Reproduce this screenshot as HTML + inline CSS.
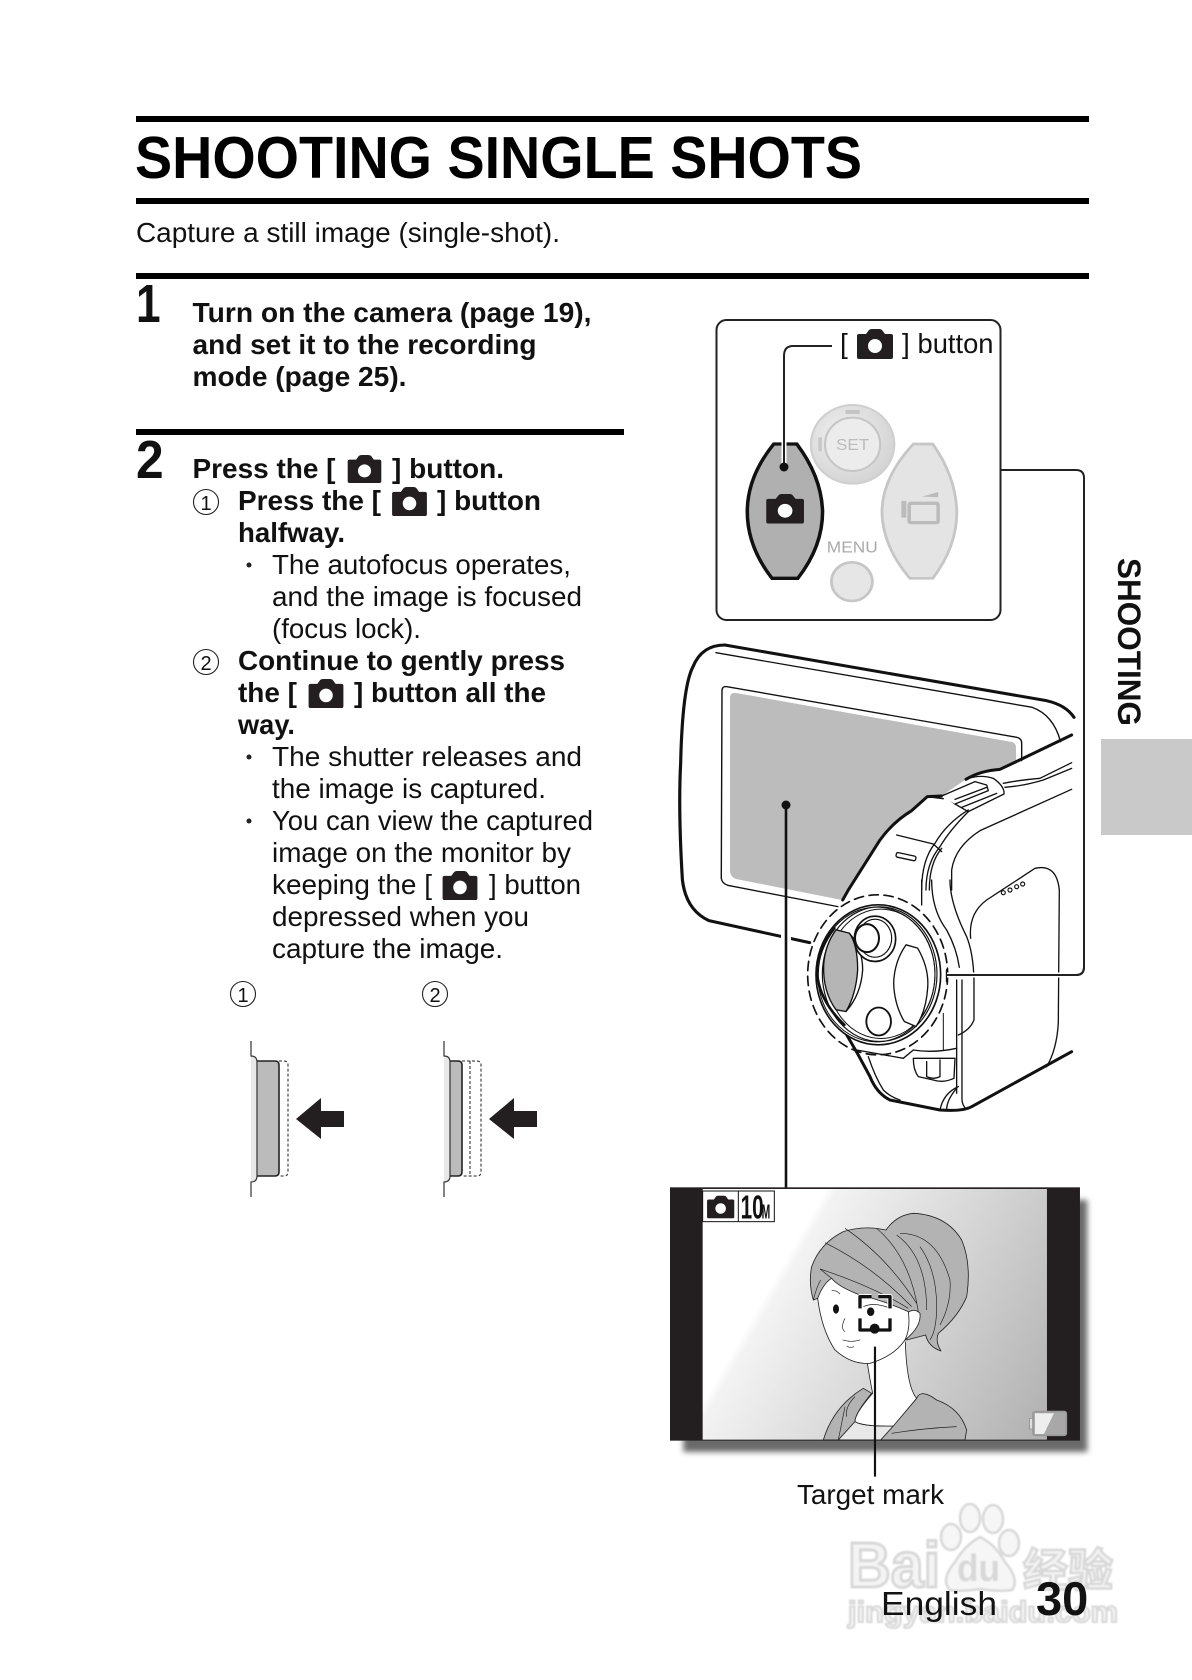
<!DOCTYPE html>
<html><head><meta charset="utf-8"><style>
html,body{margin:0;padding:0;background:#fff;width:1192px;height:1680px;overflow:hidden}
svg{display:block;position:absolute;left:0;top:0}
text{font-family:"Liberation Sans","Noto Sans CJK SC",sans-serif;fill:#111}
.b{font-weight:bold;font-size:28px}
.r{font-size:28px}
.n{font-size:20px;text-anchor:middle}
</style></head><body>
<svg width="1192" height="1680" viewBox="0 0 1192 1680" xmlns="http://www.w3.org/2000/svg">
<defs>
<symbol id="cam" viewBox="0 0 36 30"><path d="M2,5H9L12,1Q13,0 15,0H22Q24,0 25,1L28,5H34Q36,5 36,7V28Q36,30 34,30H2Q0,30 0,28V7Q0,5 2,5Z" fill="#231f20"/><circle cx="18" cy="17" r="7" fill="#fff"/></symbol>
<linearGradient id="bg" gradientUnits="userSpaceOnUse" x1="330" y1="400" x2="1151" y2="875"><stop offset="0" stop-color="#fff"/><stop offset="0.03" stop-color="#f3f3f3"/><stop offset="1" stop-color="#b0b0b0"/></linearGradient>
<radialGradient id="dial" cx=".4" cy=".4" r=".7"><stop offset="0" stop-color="#f2f2f2"/><stop offset="1" stop-color="#d0d0d0"/></radialGradient>
<filter id="blur" x="-10%" y="-10%" width="120%" height="120%"><feGaussianBlur stdDeviation="9"/></filter>
<filter id="wm" x="-5%" y="-5%" width="110%" height="110%"><feGaussianBlur stdDeviation="0.8"/></filter>
</defs>

<!-- rules -->
<rect x="136" y="116" width="953" height="6" fill="#000"/>
<rect x="136" y="198" width="953" height="6" fill="#000"/>
<rect x="136" y="273" width="953" height="6" fill="#000"/>
<rect x="136" y="429" width="488" height="6" fill="#000"/>

<text x="135" y="178" font-weight="bold" font-size="59" style="fill:#000" textLength="727" lengthAdjust="spacingAndGlyphs">SHOOTING SINGLE SHOTS</text>
<text x="136" y="242" font-size="28" textLength="424" lengthAdjust="spacingAndGlyphs">Capture a still image (single-shot).</text>

<text transform="translate(136,322) scale(.82,1)" font-weight="bold" font-size="54">1</text>
<text transform="translate(136,478) scale(.92,1)" font-weight="bold" font-size="54">2</text>

<text x="192.500" y="322" class="b" textLength="399" lengthAdjust="spacingAndGlyphs">Turn on the camera (page 19),</text>
<text x="192.500" y="354" class="b" textLength="344" lengthAdjust="spacingAndGlyphs">and set it to the recording</text>
<text x="192.500" y="386" class="b" textLength="214" lengthAdjust="spacingAndGlyphs">mode (page 25).</text>

<text x="192.500" y="478" class="b" textLength="143" lengthAdjust="spacingAndGlyphs">Press the [</text>
<use href="#cam" x="346" y="455" width="37" height="28"/>
<text x="392" y="478" class="b" textLength="112" lengthAdjust="spacingAndGlyphs">] button.</text>

<circle cx="206" cy="502" r="12.500" fill="none" stroke="#222" stroke-width="1.100"/>
<text x="206" y="510" class="n">1</text>
<text x="238" y="510" class="b" textLength="143" lengthAdjust="spacingAndGlyphs">Press the [</text>
<use href="#cam" x="391" y="487" width="37" height="29"/>
<text x="437" y="510" class="b" textLength="104" lengthAdjust="spacingAndGlyphs">] button</text>
<text x="238" y="542" class="b" textLength="107" lengthAdjust="spacingAndGlyphs">halfway.</text>

<circle cx="249" cy="565" r="2.500" fill="#222"/><text x="272" y="574" class="r" textLength="299" lengthAdjust="spacingAndGlyphs">The autofocus operates,</text>
<text x="272" y="606" class="r" textLength="310" lengthAdjust="spacingAndGlyphs">and the image is focused</text>
<text x="272" y="638" class="r" textLength="149" lengthAdjust="spacingAndGlyphs">(focus lock).</text>

<circle cx="206" cy="662" r="12.500" fill="none" stroke="#222" stroke-width="1.100"/>
<text x="206" y="670" class="n">2</text>
<text x="238" y="670" class="b" textLength="327" lengthAdjust="spacingAndGlyphs">Continue to gently press</text>
<text x="238" y="702" class="b" textLength="59" lengthAdjust="spacingAndGlyphs">the [</text>
<use href="#cam" x="307" y="679" width="38" height="29"/>
<text x="354" y="702" class="b" textLength="192" lengthAdjust="spacingAndGlyphs">] button all the</text>
<text x="238" y="734" class="b" textLength="57" lengthAdjust="spacingAndGlyphs">way.</text>

<circle cx="249" cy="757" r="2.500" fill="#222"/><text x="272" y="766" class="r" textLength="310" lengthAdjust="spacingAndGlyphs">The shutter releases and</text>
<text x="272" y="798" class="r" textLength="274" lengthAdjust="spacingAndGlyphs">the image is captured.</text>
<circle cx="249" cy="821" r="2.500" fill="#222"/><text x="272" y="830" class="r" textLength="321" lengthAdjust="spacingAndGlyphs">You can view the captured</text>
<text x="272" y="862" class="r" textLength="299" lengthAdjust="spacingAndGlyphs">image on the monitor by</text>
<text x="272" y="894" class="r" textLength="160" lengthAdjust="spacingAndGlyphs">keeping the [</text>
<use href="#cam" x="441" y="871" width="38" height="29"/>
<text x="489" y="894" class="r" textLength="92" lengthAdjust="spacingAndGlyphs">] button</text>
<text x="272" y="926" class="r" textLength="257" lengthAdjust="spacingAndGlyphs">depressed when you</text>
<text x="272" y="958" class="r" textLength="231" lengthAdjust="spacingAndGlyphs">capture the image.</text>

<!-- press diagrams -->
<circle cx="243" cy="994" r="12.500" fill="none" stroke="#222" stroke-width="1.100"/><text x="243" y="1002" class="n">1</text>
<circle cx="435" cy="994" r="12.500" fill="none" stroke="#222" stroke-width="1.100"/><text x="435" y="1002" class="n">2</text>

<g>
<path d="M251,1056Q257,1056 257,1062V1176Q257,1182 251,1182Z" fill="#e8e8e8"/>
<path d="M279,1061H284Q288,1061 288,1065V1172Q288,1176 284,1176H279" fill="none" stroke="#222" stroke-width="1" stroke-dasharray="3 2"/>
<path d="M257,1061H275Q279,1061 279,1065V1172Q279,1176 275,1176H257Z" fill="#bbb"/>
<path d="M257,1061H275Q279,1061 279,1065V1172Q279,1176 275,1176H257" fill="none" stroke="#222" stroke-width="1.600"/>
<path d="M251,1041V1056Q257,1056 257,1062V1176Q257,1182 251,1182V1197" fill="none" stroke="#333" stroke-width="1.200"/>
<path d="M296,1119L321,1098V1111H344V1127H321V1139Z" fill="#231f20"/>
</g>
<g transform="translate(193,0)">
<path d="M251,1056Q257,1056 257,1062V1176Q257,1182 251,1182Z" fill="#e8e8e8"/>
<path d="M269,1061H284Q288,1061 288,1065V1172Q288,1176 284,1176H269M277,1061V1176" fill="none" stroke="#222" stroke-width="1" stroke-dasharray="3 2"/>
<path d="M257,1061H265Q269,1061 269,1065V1172Q269,1176 265,1176H257Z" fill="#bbb"/>
<path d="M257,1061H265Q269,1061 269,1065V1172Q269,1176 265,1176H257" fill="none" stroke="#222" stroke-width="1.600"/>
<path d="M251,1041V1056Q257,1056 257,1062V1176Q257,1182 251,1182V1197" fill="none" stroke="#333" stroke-width="1.200"/>
<path d="M296,1119L321,1098V1111H344V1127H321V1139Z" fill="#231f20"/>
</g>

<!-- side tab -->
<rect x="1101" y="739" width="91" height="96" fill="#c9c9c9"/>
<text transform="translate(1118,558) rotate(90)" font-weight="bold" font-size="32" textLength="168" lengthAdjust="spacingAndGlyphs">SHOOTING</text>

<!-- connector -->
<path d="M1001,470H1076Q1084,470 1084,478V967Q1084,975 1076,975H948" fill="none" stroke="#222" stroke-width="2"/>

<!-- inset box -->
<rect x="716.500" y="320" width="284" height="300" rx="10" fill="#fff" stroke="#222" stroke-width="2"/>
<path d="M832,346H793Q784,346 784,356V467" fill="none" stroke="#222" stroke-width="2"/>
<text x="840" y="353" font-size="28">[</text>
<use href="#cam" x="857" y="329" width="36" height="30"/>
<text x="902" y="353" font-size="28">]</text>
<text x="917.500" y="353" font-size="28" textLength="76" lengthAdjust="spacingAndGlyphs">button</text>

<g transform="translate(639.500,280) scale(.3534,.3333)">
<circle cx="603" cy="493" r="118" fill="url(#dial)" stroke="#cfcfcf" stroke-width="6"/>
<ellipse cx="603" cy="493" rx="78" ry="80" fill="#ececec" stroke="#c6c6c6" stroke-width="6"/>
<text x="556" y="510" font-size="46" textLength="94" lengthAdjust="spacingAndGlyphs" style="fill:#bcbcbc">SET</text>
<rect x="583" y="390" width="40" height="12" fill="#c4c4c4"/>
<rect x="506" y="472" width="10" height="42" fill="#c8c8c8"/>
<path d="M775,492H830Q895,590 898,695Q898,800 830,895H765Q688,800 686,695Q688,590 775,492Z" fill="#e4e4e4" stroke="#c6c6c6" stroke-width="8"/>
<rect x="741" y="663" width="14" height="50" fill="#bbb"/>
<rect x="763" y="670" width="82" height="58" rx="4" fill="none" stroke="#bbb" stroke-width="10"/>
<path d="M800,650L845,636V652Z" fill="#bbb"/>
<text x="530" y="818" font-size="46" textLength="144" lengthAdjust="spacingAndGlyphs" style="fill:#aaa">MENU</text>
<circle cx="601" cy="905" r="58" fill="#e6e6e6" stroke="#c6c6c6" stroke-width="8"/>
<path d="M380,492H445Q515,590 518,695Q518,800 448,895H375Q305,800 305,695Q305,590 380,492Z" fill="#b0b0b0" stroke="#111" stroke-width="10"/>
<use href="#cam" x="358" y="642" width="108" height="89"/>
</g>
<path d="M784,440V467" stroke="#fff" stroke-width="5"/><path d="M784,440V467" stroke="#222" stroke-width="2"/>
<circle cx="784" cy="467" r="4.500" fill="#111"/>

<!-- camera: LCD gray -->
<path d="M730,698Q730,692 736,693L1012,742Q1016,743 1016,748V763L1000,770Q975,772 965,780L940,797H927L910,812Q893,822 880,840L848,890L842,900L736,879Q730,877 730,870Z" fill="#bcbcbc"/>
<!-- camera: back shell -->
<g transform="translate(640,630) scale(.3534,.3333)" fill="none" stroke="#111" stroke-width="4" stroke-linejoin="round" stroke-linecap="round">
<path d="M232,182Q232,168 246,170L1066,322Q1080,325 1080,340V392M232,182L230,745Q232,760 248,766L560,830"/>
<path d="M215,68L1110,232Q1170,255 1190,335"/>
<path d="M240,45L1150,212Q1205,225 1228,262" stroke-width="9"/>
<path d="M240,45Q175,45 150,110Q120,170 115,400Q108,540 120,750Q130,840 195,872L480,938" stroke-width="9"/>
</g>
<!-- camera: top of body -->
<g transform="translate(840,700) scale(.3333)" fill="none" stroke="#111" stroke-width="4" stroke-linejoin="round" stroke-linecap="round">
<path d="M695,105L535,182L480,208Q420,212 378,238" stroke-width="9"/>
<path d="M305,288L262,290L215,332Q160,365 120,420L25,570L8,600" stroke-width="9"/>
<path d="M378,238Q420,222 460,235Q495,260 492,282L385,335L345,312L310,285"/>
<path d="M305,288L405,245L440,255L445,272L345,312" fill="#fff"/>
<path d="M345,298L440,262M365,322L470,280"/>
<path d="M490,250Q540,240 600,235L695,188M495,262Q550,258 610,240L695,205"/>
<path d="M695,268L420,392Q345,440 335,510V570"/>
<path d="M245,570Q245,480 285,430Q320,370 385,330M258,570Q258,490 300,440Q330,390 385,335M268,570Q268,490 305,445"/>
<path d="M170,405L280,432L305,455"/>
<path d="M262,290L310,296"/>
<rect x="168" y="463" width="60" height="14" rx="5" transform="rotate(12 198 470)"/>
</g>
<!-- camera: lower body -->
<g transform="translate(800,880) scale(.3333)" fill="none" stroke="#111" stroke-width="4" stroke-linejoin="round" stroke-linecap="round">
<path d="M365,0V75M395,0Q395,90 440,150Q470,205 478,262"/>
<path d="M450,0Q450,70 500,170Q520,220 522,300V420Q510,450 475,465"/>
<path d="M512,175Q505,100 560,60L705,-35Q770,-50 778,30L775,430Q770,510 740,560"/>
<circle cx="610" cy="38" r="6" stroke-width="3.500"/><circle cx="630" cy="30" r="6" stroke-width="3.500"/><circle cx="650" cy="20" r="6" stroke-width="3.500"/><circle cx="668" cy="12" r="6" stroke-width="3.500"/>
<path d="M470,300V640M486,300V650Q484,675 500,688"/>
<path d="M815,515L515,680Q490,695 420,690L270,660Q230,640 210,590L175,525L100,395" stroke-width="9"/>
<path d="M205,530Q225,590 250,630Q270,650 300,660"/>
<path d="M170,510L310,535L340,510Q400,520 470,505"/>
<path d="M340,535L465,535L462,595Q430,610 400,600L355,590Q340,570 340,535ZM380,545V590Q400,600 420,590V540"/>
<path d="M430,400V510" stroke-width="3"/>
<path d="M475,620Q430,640 420,690M470,625Q440,660 440,690"/>
</g>
<!-- camera: control ring -->
<g transform="translate(801,881.500) scale(.3333)" fill="none" stroke="#111" stroke-width="4" stroke-linejoin="round" stroke-linecap="round">
<ellipse cx="230" cy="280" rx="210" ry="240" stroke-width="5" stroke-dasharray="28 17"/>
<ellipse cx="232" cy="280" rx="187" ry="210" fill="#fff" stroke-width="5"/>
<ellipse cx="226" cy="279" rx="176" ry="202" stroke-width="3"/>
<ellipse cx="236" cy="278" rx="172" ry="202" stroke-width="3.500"/>
<ellipse cx="240" cy="277" rx="162" ry="194" stroke-width="3"/>
<path d="M100,140Q45,210 50,290Q62,365 130,430" stroke-width="8"/>
<path d="M105,145L145,155Q170,190 170,265Q165,340 135,390L105,385Q65,330 68,250Q72,190 105,145Z" fill="#b5b5b5"/>
<path d="M145,155Q185,200 185,265Q180,340 135,390"/>
<ellipse cx="222" cy="172" rx="62" ry="68" fill="#fff" stroke-width="5"/>
<ellipse cx="222" cy="170" rx="50" ry="57" stroke-width="3.500"/>
<ellipse cx="198" cy="170" rx="36" ry="42" fill="#fff" stroke-width="6"/>
<path d="M315,190L350,200Q385,260 380,320Q375,390 345,435L310,420Q280,370 278,305Q280,240 315,190Z" fill="#fff"/>
<ellipse cx="233" cy="420" rx="37" ry="42" fill="#fff" stroke-width="5.500"/>
<path d="M437,265V300" stroke-width="5"/>
</g>
<!-- connector over camera -->
<path d="M947,975H1076" stroke="#fff" stroke-width="5"/>
<path d="M1084,967Q1084,975 1076,975H947" fill="none" stroke="#222" stroke-width="2"/>

<!-- LCD leader -->
<rect x="781" y="925" width="10" height="25" fill="#fff"/>
<path d="M786,805V1190" stroke="#111" stroke-width="2.600"/>
<circle cx="786" cy="805" r="4.500" fill="#111"/>

<!-- monitor -->
<g transform="translate(650,1170) scale(.3333)">
<rect x="100" y="90" width="1212" height="756" fill="#6a6a6a" filter="url(#blur)"/>
<rect x="60" y="52" width="1230" height="760" fill="#231f20"/>
<rect x="158" y="57" width="1033" height="752" fill="url(#bg)"/>
</g>
<g transform="translate(780,1200) scale(.3333)" stroke="#222" stroke-width="2.500" fill="none" stroke-linejoin="round">
<!-- clothes & neck -->
<path d="M130,720Q160,620 250,565L275,580Q225,640 225,665L175,720Z" fill="#b3b3b3"/>
<path d="M302,720L345,670L410,595Q420,570 455,590L470,600Q540,625 560,690L555,720Z" fill="#b3b3b3"/>
<path d="M175,720L225,665Q250,680 340,678L302,720Z" fill="#e8e8e8"/>
<path d="M262,490Q270,540 278,580Q225,640 225,665Q250,680 340,678L410,595Q380,560 376,425L300,440Z" fill="#fff" stroke="none"/>
<path d="M262,490Q270,540 278,580Q225,640 225,665Q250,680 340,678L410,595Q380,560 376,425"/>
<path d="M195,620L175,720M225,590Q195,620 200,650M335,700Q430,685 530,680" stroke-width="2"/>
<!-- ponytail & hair -->
<path d="M318,90Q350,45 400,40Q500,45 545,120Q575,190 560,290Q535,350 475,400Q465,425 483,453Q445,440 437,405L380,420L385,335L113,295L100,300Q85,250 95,200Q120,130 190,95Q250,75 318,90Z" fill="#b3b3b3"/>
<!-- ear -->
<path d="M375,345Q400,320 420,340Q425,380 375,420Z" fill="#fff"/>
<!-- face -->
<path d="M113,295Q130,250 155,235Q175,260 240,285Q320,305 385,335Q392,385 375,420Q340,470 270,490Q215,495 165,450Q125,390 113,295Z" fill="#fff"/>
<path d="M120,207Q280,260 385,325M120,207L155,235M135,128Q280,200 395,320M195,85Q320,170 410,310M290,85Q390,170 415,335M350,105Q440,170 440,330M360,100Q470,100 510,240Q515,310 480,375M420,140Q470,210 470,320Q470,390 450,420M100,300Q110,260 122,240" stroke-width="2"/>
<path d="M155,272Q170,270 180,282M195,355Q180,385 195,395M188,420Q215,428 240,420M200,438Q210,445 222,440M250,320Q285,305 330,325" stroke-width="2"/>
<ellipse cx="168" cy="327" rx="9" ry="14" fill="#111" stroke="none"/>
<ellipse cx="272" cy="335" rx="11" ry="13" fill="#111" stroke="none"/>
<path d="M275,290H240V325M295,290H330V325M240,355V390H275M330,355V390H295" stroke="#fff" stroke-width="16"/>
<path d="M275,290H240V325M295,290H330V325M240,355V390H275M330,355V390H295" stroke="#111" stroke-width="10"/>
<circle cx="284" cy="386" r="15" fill="#111" stroke="none"/>
<path d="M285,440V830" stroke="#111" stroke-width="6.500"/>
</g>
<g transform="translate(650,1170) scale(.3333)">
<!-- mode icon -->
<rect x="158" y="63" width="215" height="92" fill="#fff" stroke="#111" stroke-width="3"/>
<path d="M265,63V155" stroke="#111" stroke-width="3"/>
<use href="#cam" x="167" y="77" width="90" height="68"/>
<text transform="translate(272,145) scale(.62,1)" font-size="100" font-weight="bold">10</text>
<text transform="translate(335,145) scale(.5,1)" font-size="62" font-weight="bold">M</text>
<!-- battery -->
<rect x="1139" y="745" width="10" height="32" fill="#ddd" stroke="#888" stroke-width="2"/>
<rect x="1149" y="725" width="100" height="71" rx="6" fill="#a8a8a8" stroke="#999" stroke-width="5"/>
<path d="M1155,730H1212L1182,792H1155Z" fill="#eee"/>
</g>

<text x="797" y="1504" font-size="28" textLength="147" lengthAdjust="spacingAndGlyphs">Target mark</text>

<!-- watermark -->
<g filter="url(#wm)">
<g fill="#f6f6f6" stroke="#d8d8d8" stroke-width="2.500">
<ellipse cx="970" cy="1518" rx="10" ry="14"/><ellipse cx="993" cy="1519" rx="10" ry="14"/>
<ellipse cx="951" cy="1537" rx="10" ry="13"/><ellipse cx="1009" cy="1543" rx="10" ry="13"/>
<path d="M980,1537Q996,1545 1005,1562Q1020,1580 1012,1590Q1000,1592 980,1589Q960,1592 950,1590Q940,1580 955,1562Q965,1545 980,1537Z"/>
</g>
<text x="848" y="1587" font-size="64" font-weight="bold" style="fill:#f4f4f4;stroke:#d8d8d8;stroke-width:3" textLength="92" lengthAdjust="spacingAndGlyphs">Bai</text>
<text x="957" y="1581" font-size="38" font-weight="bold" style="fill:#d8d8d8" textLength="43" lengthAdjust="spacingAndGlyphs">du</text>
<text x="1023" y="1586" font-size="45" font-weight="bold" style="fill:#f4f4f4;stroke:#d8d8d8;stroke-width:2.500" textLength="90" lengthAdjust="spacingAndGlyphs">经验</text>
<text x="848" y="1622" font-size="30" font-weight="bold" style="fill:#f4f4f4;stroke:#d8d8d8;stroke-width:2" textLength="270" lengthAdjust="spacingAndGlyphs">jingyan.baidu.com</text>
</g>

<text x="881" y="1615" font-size="33" textLength="116" lengthAdjust="spacingAndGlyphs" style="fill:#000;opacity:.92">English</text>
<text x="1036" y="1615" font-size="47" font-weight="bold" style="fill:#000;opacity:.92">30</text>
</svg>
</body></html>
